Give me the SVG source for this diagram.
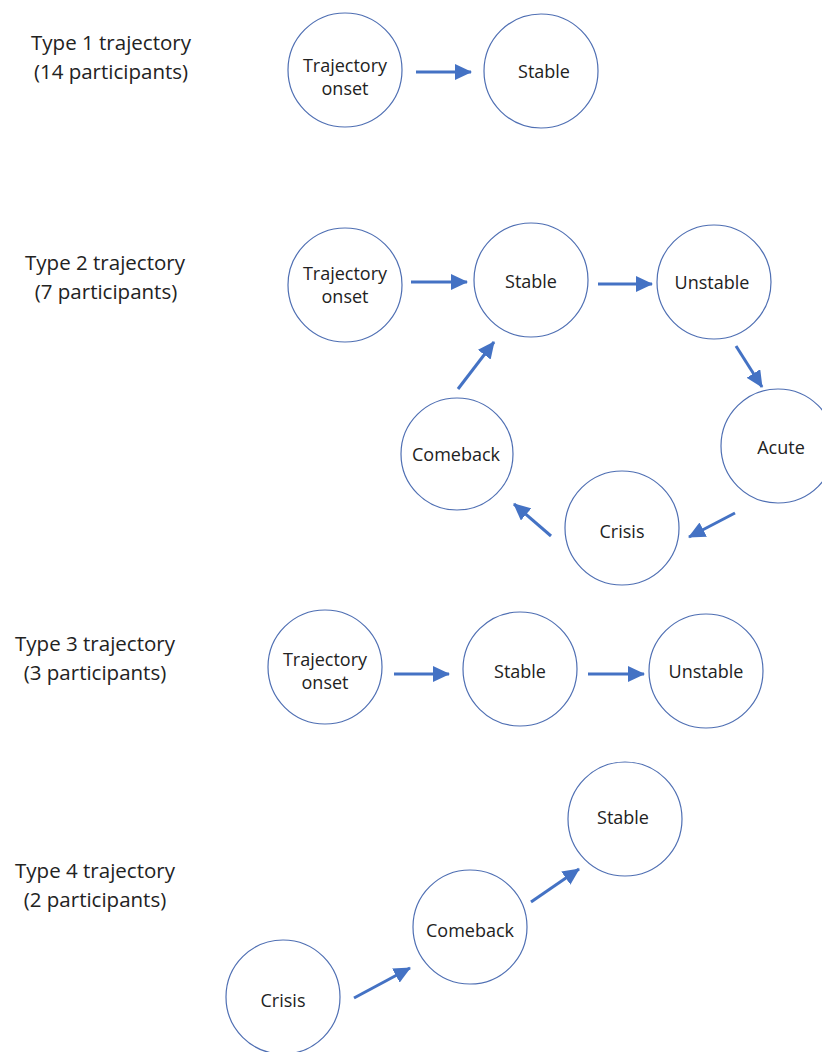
<svg xmlns="http://www.w3.org/2000/svg" width="822" height="1052" viewBox="0 0 822 1052">
<style>
.node circle{fill:#fff;stroke:#4f6fb3;stroke-width:1.2}
.node text{font-family:"Open Sans","Noto Sans",sans-serif;font-size:18px;fill:#222;text-anchor:middle}
.lbl text{font-family:"Open Sans","Noto Sans",sans-serif;font-size:20.5px;fill:#222;text-anchor:middle}
.conn line{stroke:#4472c4;stroke-width:3;marker-end:url(#ah)}
</style>
<defs>
<marker id="ah" markerUnits="userSpaceOnUse" markerWidth="18" markerHeight="16" refX="16" refY="8" orient="auto">
<path d="M0,0 L17,8 L0,16 Z" fill="#4472c4"/>
</marker>
</defs>
<rect width="822" height="1052" fill="#fff"/>

<g class="lbl" id="label1"><text x="111" y="50">Type 1 trajectory</text><text x="111" y="79">(14 participants)</text></g>
<g class="lbl" id="label2"><text x="105" y="270">Type 2 trajectory</text><text x="106" y="299">(7 participants)</text></g>
<g class="lbl" id="label3"><text x="95" y="651">Type 3 trajectory</text><text x="95" y="680">(3 participants)</text></g>
<g class="lbl" id="label4"><text x="95" y="878">Type 4 trajectory</text><text x="95" y="907">(2 participants)</text></g>

<g class="node" id="t1-onset"><circle cx="345" cy="70" r="57"/><text x="345" y="72">Trajectory</text><text x="345" y="95">onset</text></g>
<g class="node" id="t1-stable"><circle cx="541" cy="71" r="57"/><text x="544" y="78">Stable</text></g>

<g class="node" id="t2-onset"><circle cx="345" cy="285" r="57"/><text x="345" y="280">Trajectory</text><text x="345" y="303">onset</text></g>
<g class="node" id="t2-stable"><circle cx="531" cy="280" r="57"/><text x="531" y="288">Stable</text></g>
<g class="node" id="t2-unstable"><circle cx="714" cy="282" r="57"/><text x="712" y="289">Unstable</text></g>
<g class="node" id="t2-acute"><circle cx="778" cy="446" r="57"/><text x="781" y="454">Acute</text></g>
<g class="node" id="t2-crisis"><circle cx="622" cy="528" r="57"/><text x="622" y="538">Crisis</text></g>
<g class="node" id="t2-comeback"><circle cx="457" cy="454" r="56"/><text x="456" y="461">Comeback</text></g>

<g class="node" id="t3-onset"><circle cx="325" cy="667" r="57"/><text x="325" y="666">Trajectory</text><text x="325" y="689">onset</text></g>
<g class="node" id="t3-stable"><circle cx="520" cy="669" r="57"/><text x="520" y="678">Stable</text></g>
<g class="node" id="t3-unstable"><circle cx="706" cy="671" r="57"/><text x="706" y="678">Unstable</text></g>

<g class="node" id="t4-stable"><circle cx="625" cy="819" r="57"/><text x="623" y="824">Stable</text></g>
<g class="node" id="t4-comeback"><circle cx="470" cy="927" r="57"/><text x="470" y="937">Comeback</text></g>
<g class="node" id="t4-crisis"><circle cx="283" cy="997" r="57"/><text x="283" y="1007">Crisis</text></g>

<g class="conn" id="connectors">
<line x1="416" y1="72" x2="471" y2="72"/>
<line x1="411" y1="282" x2="467" y2="282"/>
<line x1="598" y1="284" x2="652" y2="284"/>
<line x1="736" y1="346" x2="762" y2="387"/>
<line x1="735" y1="513" x2="689" y2="537"/>
<line x1="551" y1="536" x2="514" y2="504"/>
<line x1="458" y1="389" x2="494" y2="342"/>
<line x1="394" y1="674" x2="449" y2="674"/>
<line x1="588" y1="674" x2="644" y2="674"/>
<line x1="354" y1="998" x2="410" y2="968"/>
<line x1="531" y1="902" x2="579" y2="869"/>
</g>
</svg>
